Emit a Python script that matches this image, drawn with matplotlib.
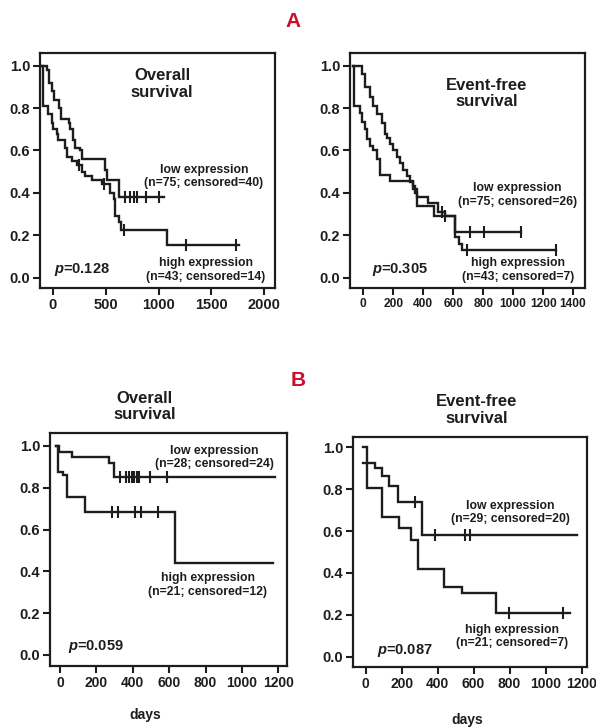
import numpy as np
import matplotlib as mpl
mpl.use("Agg")
import matplotlib.pyplot as plt

plt.rcParams.update({
    "font.family": ["Liberation Sans", "DejaVu Sans"],
    "font.weight": "bold",
    "font.size": 10,
    "axes.linewidth": 1.6,
    "mathtext.fontset": "custom",
    "mathtext.it": "Liberation Sans:italic:bold",
    "mathtext.rm": "Liberation Sans:bold",
})

# ---------------- data (Kaplan-Meier steps) ----------------
# panel A, overall survival
osA_low_t = [-105, -57, -41, -9, 6, 54, 79, 149, 165, 190, 212, 253, 275, 490, 515, 623]
osA_low_s = [1.0, 0.98, 0.92, 0.88, 0.84, 0.80, 0.75, 0.73, 0.70, 0.65, 0.61, 0.60, 0.56, 0.51, 0.46, 0.38]
osA_low_end = 1050
osA_low_cens = [686, 733, 765, 797, 876, 1002]

osA_high_t = [-105, -90, -51, -13, 3, 34, 50, 113, 129, 177, 224, 272, 303, 367, 462,
              544, 575, 591, 623, 645, 1082]
osA_high_s = [1.0, 0.81, 0.77, 0.73, 0.70, 0.68, 0.65, 0.61, 0.57, 0.55, 0.53, 0.50, 0.48,
              0.46, 0.44, 0.40, 0.37, 0.29, 0.26, 0.225, 0.155]
osA_high_end = 1761
osA_high_cens = [244, 481, 676, 1255, 1730]

# panel A, event-free survival
efsA_low_t = [-70, -11, 11, 44, 67, 93, 122, 144, 160, 178, 200, 222, 244, 267, 290, 311,
              333, 360, 430, 500, 545, 615]
efsA_low_s = [1.0, 0.96, 0.90, 0.85, 0.81, 0.77, 0.73, 0.68, 0.66, 0.63, 0.60, 0.57, 0.54,
              0.51, 0.48, 0.45, 0.42, 0.38, 0.35, 0.31, 0.29, 0.215]
efsA_low_end = 1055
efsA_low_cens = [522, 711, 804, 1055]

efsA_high_t = [-70, -62, -20, -8, 11, 22, 44, 62, 89, 111, 178, 330, 345, 355, 470, 615, 640, 660]
efsA_high_s = [1.0, 0.81, 0.775, 0.735, 0.70, 0.655, 0.62, 0.60, 0.56, 0.485, 0.455, 0.43,
               0.40, 0.34, 0.29, 0.19, 0.16, 0.13]
efsA_high_end = 1289
efsA_high_cens = [544, 689, 1289]

# panel B, overall survival
osB_low_t = [-22, -4, 64, 271, 297]
osB_low_s = [1.0, 0.973, 0.945, 0.92, 0.853]
osB_low_end = 1182
osB_low_cens = [330, 363, 381, 394, 407, 421, 436, 495, 590]

osB_high_t = [-22, -9, 18, 40, 137, 632]
osB_high_s = [1.0, 0.877, 0.861, 0.758, 0.683, 0.439]
osB_high_end = 1169
osB_high_cens = [284, 321, 412, 443, 540]

# panel B, event-free survival
efsB_low_t = [-13, 54, 91, 128, 180, 313]
efsB_low_s = [0.927, 0.90, 0.863, 0.815, 0.74, 0.58]
efsB_low_end = 1174
efsB_low_cens = [272, 387, 554, 582]

efsB_high_t = [-13, 7, 91, 183, 254, 291, 433, 535, 724]
efsB_high_s = [1.0, 0.804, 0.669, 0.613, 0.557, 0.417, 0.334, 0.306, 0.21]
efsB_high_end = 1137
efsB_high_cens = [795, 1095]

y_ticks = [0.0, 0.2, 0.4, 0.6, 0.8, 1.0]

INK = "#1f1c1d"


def km(ax, t, s, end, cens):
    t = np.asarray(t, float)
    s = np.asarray(s, float)
    ax.step(np.r_[t, end], np.r_[s, s[-1]], where="post", color=INK, lw=1.7,
            solid_joinstyle="miter", zorder=3)
    idx = np.searchsorted(t, cens, side="right") - 1
    ax.plot(cens, s[idx], ls="none", marker="|", ms=8, mew=1.5, color=INK, zorder=4)


def style(ax, xlim, ylim, xticks, xsize=10.5):
    ax.set_xlim(*xlim)
    ax.set_ylim(*ylim)
    ax.set_xticks(xticks)
    ax.set_yticks(y_ticks)
    ax.set_yticklabels([f"{v:.1f}" for v in y_ticks])
    ax.tick_params(direction="out", length=5, width=1.5, pad=2, labelsize=10.5, colors=INK)
    ax.tick_params(axis="x", labelsize=xsize)
    for sp in ax.spines.values():
        sp.set_color(INK)


fig = plt.figure(figsize=(5.96, 7.27), dpi=100)

txt = dict(ha="center", va="center", fontweight="bold", color=INK, linespacing=1.15)
lab = 8.8
ttl = 12

# ---- A, overall survival ----
ax = fig.add_axes([0.0671, 0.6039, 0.394, 0.3232])
km(ax, osA_low_t, osA_low_s, osA_low_end, osA_low_cens)
km(ax, osA_high_t, osA_high_s, osA_high_end, osA_high_cens)
style(ax, (-123, 2100), (-0.049, 1.06), [0, 500, 1000, 1500, 2000])
ax.text(0.52, 0.868, "Overall\nsurvival", transform=ax.transAxes, fontsize=ttl, **txt)
ax.text(0.698, 0.474, "low expression\n(n=75; censored=40)", transform=ax.transAxes, fontsize=lab, **txt)
ax.text(0.706, 0.077, "high expression\n(n=43; censored=14)", transform=ax.transAxes, fontsize=lab, **txt)
ax.text(0.06, 0.077, r"$p$=0.128", transform=ax.transAxes, fontsize=10.5,
        ha="left", va="center", fontweight="bold", color=INK)

# ---- A, event-free survival ----
ax = fig.add_axes([0.5872, 0.6039, 0.394, 0.3232])
km(ax, efsA_low_t, efsA_low_s, efsA_low_end, efsA_low_cens)
km(ax, efsA_high_t, efsA_high_s, efsA_high_end, efsA_high_cens)
style(ax, (-89, 1478), (-0.049, 1.06), [0, 200, 400, 600, 800, 1000, 1200, 1400], xsize=8.6)
ax.text(0.583, 0.828, "Event-free\nsurvival", transform=ax.transAxes, fontsize=ttl, **txt)
ax.text(0.713, 0.396, "low expression\n(n=75; censored=26)", transform=ax.transAxes, fontsize=lab, **txt)
ax.text(0.715, 0.077, "high expression\n(n=43; censored=7)", transform=ax.transAxes, fontsize=lab, **txt)
ax.text(0.094, 0.077, r"$p$=0.305", transform=ax.transAxes, fontsize=10.5,
        ha="left", va="center", fontweight="bold", color=INK)

# ---- B, overall survival ----
ax = fig.add_axes([0.0839, 0.0839, 0.3977, 0.3205])
km(ax, osB_low_t, osB_low_s, osB_low_end, osB_low_cens)
km(ax, osB_high_t, osB_high_s, osB_high_end, osB_high_cens)
style(ax, (-55, 1248), (-0.053, 1.062), [0, 200, 400, 600, 800, 1000, 1200], xsize=10)
ax.text(0.40, 1.114, "Overall\nsurvival", transform=ax.transAxes, fontsize=ttl, **txt)
ax.text(0.693, 0.895, "low expression\n(n=28; censored=24)", transform=ax.transAxes, fontsize=lab, **txt)
ax.text(0.666, 0.348, "high expression\n(n=21; censored=12)", transform=ax.transAxes, fontsize=lab, **txt)
ax.text(0.076, 0.082, r"$p$=0.059", transform=ax.transAxes, fontsize=10.5,
        ha="left", va="center", fontweight="bold", color=INK)
ax.text(0.40, -0.21, "days", transform=ax.transAxes, fontsize=10, **txt)

# ---- B, event-free survival ----
ax = fig.add_axes([0.5923, 0.0825, 0.3926, 0.3164])
km(ax, efsB_low_t, efsB_low_s, efsB_low_end, efsB_low_cens)
km(ax, efsB_high_t, efsB_high_s, efsB_high_end, efsB_high_cens)
style(ax, (-70, 1230), (-0.049, 1.049), [0, 200, 400, 600, 800, 1000, 1200], xsize=10)
ax.text(0.53, 1.117, "Event-free\nsurvival", transform=ax.transAxes, fontsize=ttl, **txt)
ax.text(0.671, 0.672, "low expression\n(n=29; censored=20)", transform=ax.transAxes, fontsize=lab, **txt)
ax.text(0.678, 0.133, "high expression\n(n=21; censored=7)", transform=ax.transAxes, fontsize=lab, **txt)
ax.text(0.103, 0.074, r"$p$=0.087", transform=ax.transAxes, fontsize=10.5,
        ha="left", va="center", fontweight="bold", color=INK)
ax.text(0.49, -0.23, "days", transform=ax.transAxes, fontsize=10, **txt)

# panel letters
fig.text(0.492, 0.970, "A", fontsize=15, fontweight="bold", color="#c8102e", ha="center", va="center")
fig.text(0.500, 0.477, "B", fontsize=15, fontweight="bold", color="#c8102e", ha="center", va="center")

fig.savefig("out.png", dpi=100)
